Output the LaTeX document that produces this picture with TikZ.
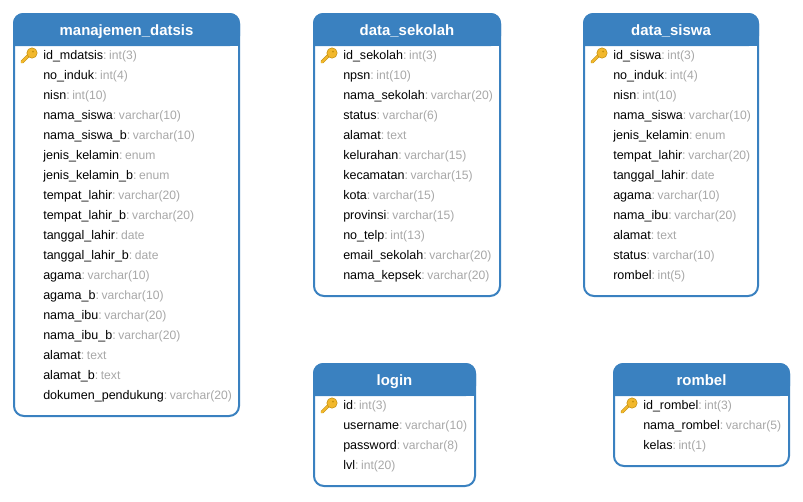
\documentclass[tikz,border=0pt]{standalone}
\usepackage{fontspec}
\setmainfont{Liberation Sans}
\definecolor{hdr}{HTML}{3A81C0}
\definecolor{typ}{HTML}{A8A8A8}
\definecolor{keyc}{HTML}{F2B82C}
\definecolor{keyd}{HTML}{C4900F}
\tikzset{
  x=0.75pt,y=-0.75pt,
  tablebox/.style={draw=hdr,line width=1.5pt,rounded corners=7.5pt,fill=white},
  tabletitle/.style={text=white,font=\bfseries\fontsize{11.2}{13}\selectfont,inner sep=0pt,anchor=base},
  rowtext/.style={anchor=base west,inner sep=0pt,font=\fontsize{9.4}{11}\selectfont,text=black},
}
\newcommand{\typ}[1]{\textcolor{typ}{:\hspace{1.9pt}{\fontsize{9.1}{11}\selectfont #1}}}
% name x0 y0 x1 y1 title
\newcommand{\tablepanel}[6]{%
  \draw[tablebox] (#2,#3) rectangle (#4,#5);
  \fill[hdr,rounded corners=7.5pt] (#2-1,#3-1) -- (#4+1,#3-1) -- (#4+1,#3+32) [sharp corners] -- (#2-1,#3+32) [rounded corners=7.5pt] -- cycle;
  \fill[hdr] (#2-1,#3+20) rectangle (#4+1,#3+32);
  \node[tabletitle] (#1) at ({(#2+#4)/2},#3+21) {#6};
}
\newcommand{\keyicon}[2]{%
  \begin{scope}[shift={(#1,#2)}]
    \draw[keyd,line width=2.4pt,line cap=round] (-7,6) -- (1,-2);
    \draw[keyc,line width=1.6pt,line cap=round] (-7,6) -- (1,-2);
    \fill[keyc,draw=keyd,line width=0.4pt] (3,-3) circle [radius=5.2];
    \fill[keyd] (4,-4.5) circle [radius=1];
  \end{scope}
}
% name x y-row field type
\newcommand{\rowitem}[5]{\node[rowtext] (#1) at (#2,#3) {#4\typ{#5}};}
\begin{document}
\begin{tikzpicture}
\useasboundingbox (0,0) rectangle (803,501);
\fill[white] (0,0) rectangle (803,501);

\tablepanel{manajemen}{14}{14}{239}{416}{manajemen\_datsis}
\keyicon{29}{56}
\rowitem{ma}{43}{59}{id\_mdatsis}{int(3)}
\rowitem{mb}{43}{79}{no\_induk}{int(4)}
\rowitem{mc}{43}{99}{nisn}{int(10)}
\rowitem{md}{43}{119}{nama\_siswa}{varchar(10)}
\rowitem{me}{43}{139}{nama\_siswa\_b}{varchar(10)}
\rowitem{mf}{43}{159}{jenis\_kelamin}{enum}
\rowitem{mg}{43}{179}{jenis\_kelamin\_b}{enum}
\rowitem{mh}{43}{199}{tempat\_lahir}{varchar(20)}
\rowitem{mi}{43}{219}{tempat\_lahir\_b}{varchar(20)}
\rowitem{mj}{43}{239}{tanggal\_lahir}{date}
\rowitem{mk}{43}{259}{tanggal\_lahir\_b}{date}
\rowitem{ml}{43}{279}{agama}{varchar(10)}
\rowitem{mm}{43}{299}{agama\_b}{varchar(10)}
\rowitem{mn}{43}{319}{nama\_ibu}{varchar(20)}
\rowitem{mo}{43}{339}{nama\_ibu\_b}{varchar(20)}
\rowitem{mp}{43}{359}{alamat}{text}
\rowitem{mq}{43}{379}{alamat\_b}{text}
\rowitem{mr}{43}{399}{dokumen\_pendukung}{varchar(20)}

\tablepanel{sekolah}{314}{14}{500}{296}{data\_sekolah}
\keyicon{329}{56}
\rowitem{sa}{343}{59}{id\_sekolah}{int(3)}
\rowitem{sb}{343}{79}{npsn}{int(10)}
\rowitem{sc}{343}{99}{nama\_sekolah}{varchar(20)}
\rowitem{sd}{343}{119}{status}{varchar(6)}
\rowitem{se}{343}{139}{alamat}{text}
\rowitem{sf}{343}{159}{kelurahan}{varchar(15)}
\rowitem{sg}{343}{179}{kecamatan}{varchar(15)}
\rowitem{sh}{343}{199}{kota}{varchar(15)}
\rowitem{si}{343}{219}{provinsi}{varchar(15)}
\rowitem{sj}{343}{239}{no\_telp}{int(13)}
\rowitem{sk}{343}{259}{email\_sekolah}{varchar(20)}
\rowitem{sl}{343}{279}{nama\_kepsek}{varchar(20)}

\tablepanel{siswa}{584}{14}{758}{296}{data\_siswa}
\keyicon{599}{56}
\rowitem{da}{613}{59}{id\_siswa}{int(3)}
\rowitem{db}{613}{79}{no\_induk}{int(4)}
\rowitem{dc}{613}{99}{nisn}{int(10)}
\rowitem{dd}{613}{119}{nama\_siswa}{varchar(10)}
\rowitem{de}{613}{139}{jenis\_kelamin}{enum}
\rowitem{df}{613}{159}{tempat\_lahir}{varchar(20)}
\rowitem{dg}{613}{179}{tanggal\_lahir}{date}
\rowitem{dh}{613}{199}{agama}{varchar(10)}
\rowitem{di}{613}{219}{nama\_ibu}{varchar(20)}
\rowitem{dj}{613}{239}{alamat}{text}
\rowitem{dk}{613}{259}{status}{varchar(10)}
\rowitem{dl}{613}{279}{rombel}{int(5)}

\tablepanel{login}{314}{364}{475}{486}{login}
\keyicon{329}{406}
\rowitem{la}{343}{409}{id}{int(3)}
\rowitem{lb}{343}{429}{username}{varchar(10)}
\rowitem{lc}{343}{449}{password}{varchar(8)}
\rowitem{ld}{343}{469}{lvl}{int(20)}

\tablepanel{rombel}{614}{364}{789}{466}{rombel}
\keyicon{629}{406}
\rowitem{ra}{643}{409}{id\_rombel}{int(3)}
\rowitem{rb}{643}{429}{nama\_rombel}{varchar(5)}
\rowitem{rc}{643}{449}{kelas}{int(1)}
\end{tikzpicture}
\end{document}
